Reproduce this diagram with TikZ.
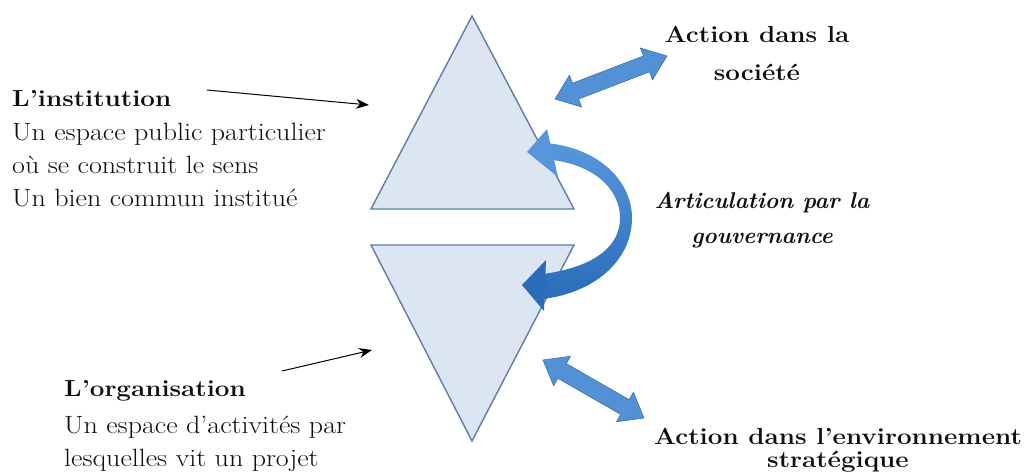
\documentclass[tikz,border=0pt]{standalone}
\usepackage{fontspec}
\setmainfont{Latin Modern Roman}[FakeStretch=1.12]
\newfontfamily\lmplain{Latin Modern Roman}
\usetikzlibrary{calc,arrows.meta}
\definecolor{trifill}{RGB}{220,230,242}
\definecolor{triedge}{RGB}{95,125,165}
\definecolor{arrblue}{RGB}{82,145,214}
\definecolor{arredge}{RGB}{62,112,178}
\definecolor{curvtop}{RGB}{88,150,220}
\definecolor{curvbot}{RGB}{42,108,184}
\definecolor{txt}{RGB}{15,15,15}
\tikzset{
  tri/.style={fill=trifill, draw=triedge, line width=1.4pt, line join=miter},
  ptr/.style={-{Stealth[length=13pt,width=10pt]}, line width=1pt, black},
  body/.style={inner sep=0pt, anchor=base west, text=txt, font=\fontsize{25}{33}\selectfont},
  ttl/.style={body, font=\fontsize{23.2}{33}\selectfont\bfseries},
  rlab/.style={inner sep=0pt, anchor=base, text=txt, font=\fontsize{23.2}{33}\selectfont\bfseries},
  ilab/.style={rlab, font=\lmplain\fontsize{22.8}{33}\selectfont\bfseries\itshape},
  dbl/.style={fill=arrblue, draw=arredge, line width=0.6pt, line join=miter}
}
\newcommand\dblarr[2]{%
  \coordinate (h1) at ($(#1)!22pt!(#2)$);
  \coordinate (h2) at ($(#2)!22pt!(#1)$);
  \path[dbl] (#1) -- ($(h1)!17pt!90:(#2)$) -- ($(h1)!8.5pt!90:(#2)$)
    -- ($(h2)!8.5pt!-90:(#1)$) -- ($(h2)!17pt!-90:(#1)$) -- (#2)
    -- ($(h2)!17pt!90:(#1)$) -- ($(h2)!8.5pt!90:(#1)$)
    -- ($(h1)!8.5pt!-90:(#2)$) -- ($(h1)!17pt!-90:(#2)$) -- cycle;}
\begin{document}
\begin{tikzpicture}[x=1pt,y=-1pt]
\useasboundingbox[fill=white] (0,0) rectangle (1029,475);
% triangles
\coordinate (ta) at (472,16);
\coordinate (tl) at (371,209);
\coordinate (tr) at (574,209);
\coordinate (bl) at (371,245);
\coordinate (br) at (574,245);
\coordinate (ba) at (472,441);
\draw[tri] (ta) -- (tr) -- (tl) -- cycle;
\draw[tri] (bl) -- (br) -- (ba) -- cycle;
% left texts
\node[ttl] (inst) at (12,106) {L'institution};
\node[body] (inst2) at (12,140) {Un espace public particulier};
\node[body] (inst3) at (12,173) {où se construit le sens};
\node[body] (inst4) at (12,206) {Un bien commun institué};
\node[ttl] (org) at (64,396) {L'organisation};
\node[body] (org2) at (64,433) {Un espace d'activités par};
\node[body] (org3) at (64,466) {lesquelles vit un projet};
% pointers
\coordinate (p1s) at (207,90);
\coordinate (p1e) at (369,105);
\coordinate (p2s) at (282,371);
\coordinate (p2e) at (372,350);
\draw[ptr] (p1s) -- (p1e);
\draw[ptr] (p2s) -- (p2e);
% right labels
\node[rlab] (soc1) at (757,42) {Action dans la};
\node[rlab] (soc2) at (757,80) {société};
\node[ilab] (art1) at (762,208) {Articulation par la};
\node[ilab] (art2) at (762,243) {gouvernance};
\node[rlab] (env1) at (838,444) {Action dans l'environnement};
\node[rlab] (env2) at (838,467) {stratégique};
% double arrows
\coordinate (da1) at (555,99);
\coordinate (da2) at (667,56);
\dblarr{da1}{da2}
\coordinate (db1) at (543,360);
\coordinate (db2) at (644,418);
\dblarr{db1}{db2}
% curved arrow
\shade[top color=curvtop, bottom color=curvbot]
  (546,143) .. controls (600,148) and (632,182) .. (632,218)
  .. controls (632,258) and (598,292) .. (543,299)
  -- (543,274) .. controls (588,268) and (620,250) .. (620,218)
  .. controls (620,190) and (596,166) .. (553,160) -- cycle;
\coordinate (ch1) at (527,152);
\coordinate (ch2) at (522,285);
\fill[curvtop] (ch1) -- (547,129) -- (558,177) -- cycle;
\fill[curvbot] (ch2) -- (546,260) -- (544,311) -- cycle;
\end{tikzpicture}
\end{document}
